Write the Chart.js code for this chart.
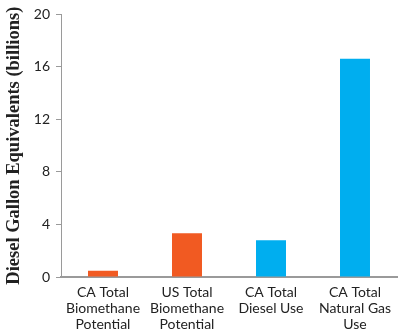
<!DOCTYPE html>
<html>
<head>
<meta charset="utf-8">
<script src="https://cdn.jsdelivr.net/npm/chart.js@4"></script>
<style>
  html, body { margin: 0; padding: 0; background: #fff; }
  #wrap { width: 400px; height: 331px; }
</style>
</head>
<body>
<div id="wrap"><canvas id="chart" width="400" height="331"></canvas></div>
<script>
// values (billions of DGE)
const categories = [
  ['CA Total', 'Biomethane', 'Potential'],
  ['US Total', 'Biomethane', 'Potential'],
  ['CA Total', 'Diesel Use'],
  ['CA Total', 'Natural Gas', 'Use']
];
const values = [0.48, 3.34, 2.79, 16.62];
const barColors = ['#F15A22', '#F15A22', '#00AEEF', '#00AEEF'];
const yTicks = [0, 4, 8, 12, 16, 20];

const tickFont = { family: 'Lato, "Noto Sans", sans-serif', size: 14, lineHeight: 1.14 };

new Chart(document.getElementById('chart'), {
  type: 'bar',
  data: {
    labels: categories,
    datasets: [{
      data: values,
      backgroundColor: barColors,
      borderWidth: 0,
      barPercentage: 0.357,
      categoryPercentage: 1
    }]
  },
  options: {
    responsive: false,
    animation: false,
    layout: { padding: { top: 0, right: 3, left: 3, bottom: 0 } },
    plugins: { legend: { display: false }, tooltip: { enabled: false } },
    scales: {
      x: {
        grid: { display: false, drawTicks: false },
        border: { display: true, color: '#9a9a9a', width: 2 },
        afterFit: axis => { axis.height = 54; },
        ticks: { color: '#222', font: tickFont, padding: 8, maxRotation: 0, autoSkip: false }
      },
      y: {
        min: 0,
        max: 20,
        afterBuildTicks: axis => { axis.ticks = yTicks.map(v => ({ value: v })); },
        afterFit: axis => { axis.width = 58; },
        grid: { drawOnChartArea: false, drawTicks: true, tickLength: 5, color: '#9a9a9a' },
        border: { display: true, color: '#9a9a9a', width: 1 },
        ticks: { color: '#222', font: { family: tickFont.family, size: 14 }, padding: 6 },
        title: {
          display: true,
          text: 'Diesel Gallon Equivalents (billions)',
          color: '#222',
          font: { family: '"Liberation Serif", serif', size: 18.5, weight: 'bold' },
          padding: 0
        }
      }
    }
  }
});
</script>
</body>
</html>
